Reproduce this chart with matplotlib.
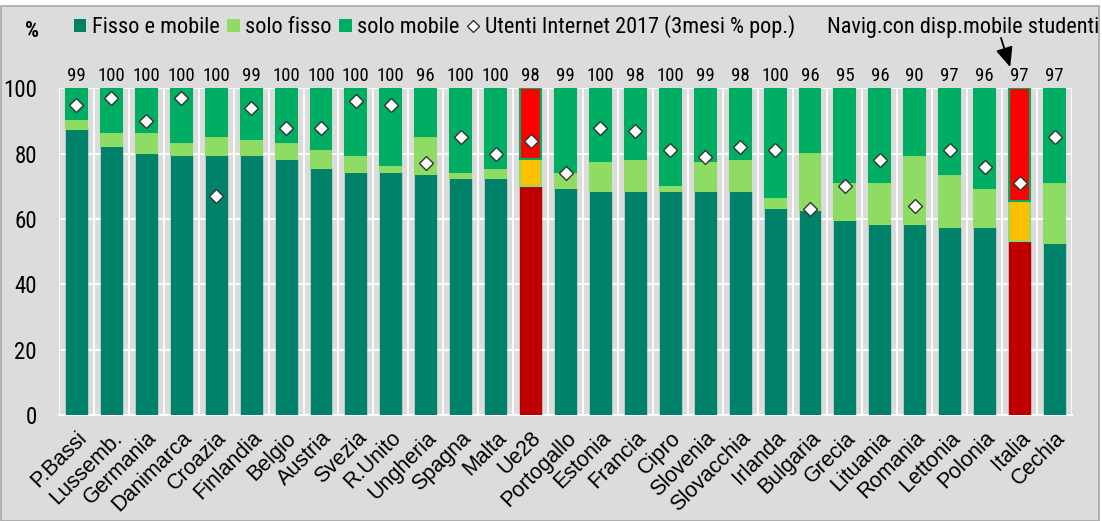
import matplotlib
matplotlib.use("Agg")
import matplotlib.pyplot as plt
from matplotlib.patches import Rectangle
from matplotlib.lines import Line2D
from matplotlib import font_manager as fm_

countries = ["P.Bassi", "Lussemb.", "Germania", "Danimarca", "Croazia", "Finlandia",
             "Belgio", "Austria", "Svezia", "R.Unito", "Ungheria", "Spagna", "Malta",
             "Ue28", "Portogallo", "Estonia", "Francia", "Cipro", "Slovenia",
             "Slovacchia", "Irlanda", "Bulgaria", "Grecia", "Lituania", "Romania",
             "Lettonia", "Polonia", "Italia", "Cechia"]
fisso_mobile = [87.4, 82.3, 80.3, 79.6, 79.6, 79.6, 78.4, 75.6, 74.5, 74.5, 73.7, 72.6,
                72.6, 70.1, 69.4, 68.6, 68.6, 68.6, 68.6, 68.6, 63.5, 62.8, 59.6, 58.4,
                58.4, 57.6, 57.6, 53.3, 52.6]
solo_fisso = [3.1, 4.3, 6.3, 3.9, 5.8, 5.0, 5.1, 5.9, 5.0, 1.9, 11.7, 1.8, 3.0, 8.4,
              5.0, 9.1, 9.8, 1.9, 9.1, 9.8, 3.1, 17.6, 11.7, 12.9, 21.1, 16.1, 11.8,
              12.2, 18.7]
solo_mobile = [9.5, 13.4, 13.4, 16.5, 14.6, 15.4, 16.5, 18.5, 20.5, 23.6, 14.6, 25.6,
               24.4, 21.5, 25.6, 22.3, 21.6, 29.5, 22.3, 21.6, 33.4, 19.6, 28.7, 28.7,
               20.5, 26.3, 30.6, 34.5, 28.7]
utenti_internet = [95, 97, 90, 97, 67, 94, 88, 88, 96, 95, 77, 85, 80, 84, 74, 88, 87,
                   81, 79, 82, 81, 63, 70, 78, 64, 81, 76, 71, 85]
totali = [99, 100, 100, 100, 100, 99, 100, 100, 100, 100, 96, 100, 100, 98, 99, 100,
          98, 100, 99, 98, 100, 96, 95, 96, 90, 97, 96, 97, 97]
evidenziati = ["Ue28", "Italia"]
nota = "Navig.con disp.mobile studenti"
nota_paese = "Italia"

names = {f.name for f in fm_.fontManager.ttflist}
narrow_first = None
for cand in ["Liberation Sans Narrow", "Arimo Narrow", "Roboto Condensed", "Archivo Narrow",
             "PT Sans Narrow", "Open Sans Condensed"]:
    if cand in names:
        narrow_first = cand
        break
NARROW = ([narrow_first] if narrow_first else []) + ["Liberation Sans", "DejaVu Sans"]
REG = ["Liberation Sans", "DejaVu Sans"]

C_FM, C_SF, C_SM = "#00826A", "#8EDC64", "#00AE63"
H_FM, H_SF, H_SM = "#C00000", "#FFC000", "#FF0000"
BG = "#DCDCDC"

fig = plt.figure(figsize=(11.02, 5.21), dpi=100, facecolor="white")
fig.patches.append(Rectangle((0.001, 0.0), 0.996, 1 - 6 / 521, transform=fig.transFigure,
                             facecolor=BG, edgecolor="#A8A8A8", linewidth=1.2, zorder=-10))
ax = fig.add_axes([59 / 1102, 1 - 415 / 521, (1072 - 59) / 1102, (415 - 88.3) / 521])
ax.set_facecolor(BG)

x = list(range(len(countries)))
w = 0.6
def cols(normal, hi):
    return [hi if c in evidenziati else normal for c in countries]

b1 = ax.bar(x, fisso_mobile, w, color=cols(C_FM, H_FM), edgecolor=C_FM, linewidth=1.0,
            label="Fisso e mobile", zorder=3)
b2 = ax.bar(x, solo_fisso, w, bottom=fisso_mobile, color=cols(C_SF, H_SF), edgecolor=C_SF,
            linewidth=1.5, label="solo fisso", zorder=3)
bot2 = [a + b for a, b in zip(fisso_mobile, solo_fisso)]
b3 = ax.bar(x, solo_mobile, w, bottom=bot2, color=cols(C_SM, H_SM), edgecolor=C_SM,
            linewidth=1.5, label="solo mobile", zorder=3)
for i, c in enumerate(countries):
    if c in evidenziati:
        b1[i].set_edgecolor("#B00000")
sc, = ax.plot(x, utenti_internet, linestyle="none", marker="D", markersize=7,
              markerfacecolor="white", markeredgecolor="#333333", markeredgewidth=1.0,
              zorder=5, label="Utenti Internet 2017 (3mesi % pop.)")

for xi, t in zip(x, totali):
    ax.text(xi, 101.0, str(t), ha="center", va="bottom", fontsize=13.5, family=NARROW,
            clip_on=False)

ax.set_xlim(-0.5, len(countries) - 0.5)
ax.set_ylim(0, 100)
ax.set_yticks([0, 20, 40, 60, 80, 100])
ax.set_xticks(x)
ax.set_xticklabels(countries, rotation=45, ha="right", va="top", rotation_mode="anchor",
                   fontsize=15.5, family=REG)
ax.tick_params(axis="x", length=0, pad=9)
ax.tick_params(axis="y", length=0, pad=16, labelsize=16.5)
for lab in ax.get_yticklabels():
    lab.set_family(NARROW)
ax.set_xticks([i + 0.5 for i in range(-1, len(countries))], minor=True)
ax.grid(axis="y", which="major", color="white", linewidth=1.3, zorder=0)
ax.grid(axis="x", which="minor", color="white", linewidth=1.3, zorder=0)
ax.grid(axis="x", which="major", visible=False)
ax.tick_params(axis="x", which="minor", length=0)
for s in ["left", "right", "top"]:
    ax.spines[s].set_visible(False)
ax.spines["bottom"].set_color("white")
ax.spines["bottom"].set_linewidth(1.5)
ax.set_axisbelow(True)

h_fm = Rectangle((0, 0), 1, 1, facecolor=C_FM)
h_sf = Rectangle((0, 0), 1, 1, facecolor=C_SF)
h_sm = Rectangle((0, 0), 1, 1, facecolor=C_SM)
h_ui = Line2D([], [], linestyle="none", marker="D", markersize=6, markerfacecolor="white",
              markeredgecolor="#333333", markeredgewidth=1.0)
fig.legend([h_fm, h_sf, h_sm, h_ui],
           ["Fisso e mobile", "solo fisso", "solo mobile", "Utenti Internet 2017 (3mesi % pop.)"],
           loc="center left", bbox_to_anchor=(74 / 1102, 1 - 27 / 521), ncol=4, frameon=False,
           prop={"family": NARROW, "size": 16}, handlelength=0.55, handleheight=0.55,
           handletextpad=0.25, columnspacing=0.35, borderaxespad=0, borderpad=0)

fig.text(32 / 1102, 1 - 31 / 521, "%", ha="center", va="center", fontsize=16,
         fontweight="bold", family=NARROW)

fig.text(1099 / 1102, 1 - 27 / 521, nota, ha="right", va="center", fontsize=16,
         family=NARROW)
ip = countries.index(nota_paese)
ax.annotate("", xy=(ip - 0.27, 106.5), xycoords="data",
            xytext=(1001 / 1102, 1 - 38 / 521), textcoords="figure fraction",
            annotation_clip=False,
            arrowprops=dict(arrowstyle="-|>,head_length=0.8,head_width=0.35", color="black",
                            lw=1.3, mutation_scale=15, shrinkA=0, shrinkB=0))

fig.savefig("out.png", dpi=100, facecolor="white")
